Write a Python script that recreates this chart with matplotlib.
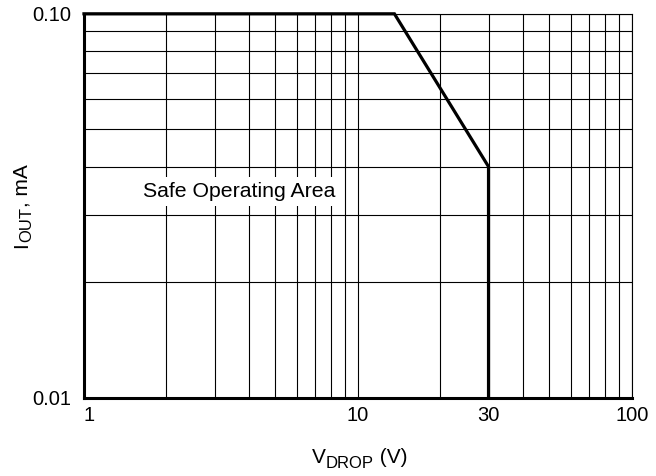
import matplotlib.pyplot as plt
from matplotlib.ticker import FixedLocator, NullFormatter
from matplotlib.transforms import offset_copy

plt.rcParams['font.family'] = ['Liberation Sans', 'DejaVu Sans']

# Safe operating area boundary
v_drop = [1, 13.6, 30, 30]
i_out = [0.1, 0.1, 0.04, 0.01]

x_ticks = [1, 10, 30, 100]
x_tick_labels = ['1', '10', '30', '100']
y_ticks = [0.01, 0.1]
y_tick_labels = ['0.01', '0.10']

fig = plt.figure(figsize=(6.56, 4.76), dpi=100)
ax = fig.add_axes([0.128, 0.164, 0.835, 0.807])

ax.set_xscale('log')
ax.set_yscale('log')
ax.set_xlim(1, 100)
ax.set_ylim(0.01, 0.1)

# grid on every minor decade step
x_minor = [m * d for d in (1, 10) for m in range(2, 10)] + [10, 100]
y_minor = [m * 0.01 for m in range(2, 10)]
ax.xaxis.set_minor_locator(FixedLocator(x_minor))
ax.yaxis.set_minor_locator(FixedLocator(y_minor))
ax.xaxis.set_minor_formatter(NullFormatter())
ax.yaxis.set_minor_formatter(NullFormatter())
ax.grid(True, which='both', color='black', linewidth=0.8)

ax.set_xticks(x_ticks)
ax.set_xticklabels(x_tick_labels)
ax.set_yticks(y_ticks)
ax.set_yticklabels(y_tick_labels)
ax.tick_params(which='both', length=0, labelsize=14.5)
ax.tick_params(axis='x', pad=6)
ax.tick_params(axis='y', pad=9)
ax.get_xticklabels()[0].set_horizontalalignment('left')

ax.plot(v_drop, i_out, color='black', linewidth=2.3, solid_joinstyle='miter',
        zorder=5, clip_on=False)

for side in ('left', 'bottom'):
    ax.spines[side].set_linewidth(2.2)
for side in ('top', 'right'):
    ax.spines[side].set_linewidth(0.8)

ax.text(0.283, 0.523, 'Safe Operating Area', transform=ax.transAxes,
        ha='center', va='baseline', fontsize=15.3, zorder=4,
        bbox=dict(facecolor='white', edgecolor='none', boxstyle='square,pad=0.25'))


# axis labels with subscripts, drawn piece by piece
def label_pieces(x, y, pieces, rotation=0):
    renderer = fig.canvas.get_renderer()
    shift = 0.0
    for s, size, drop in pieces:
        if rotation:
            tr = offset_copy(fig.transFigure, fig=fig, x=drop, y=shift, units='points')
        else:
            tr = offset_copy(fig.transFigure, fig=fig, x=shift, y=-drop, units='points')
        t = fig.text(x, y, s, fontsize=size, transform=tr, rotation=rotation,
                     ha='left', va='baseline', rotation_mode='anchor')
        ext = t.get_window_extent(renderer)
        shift += (ext.height if rotation else ext.width) * 72 / fig.dpi


label_pieces(312 / 656, 1 - 463 / 476,
             [('V', 15, 0), ('DROP', 12, 3.5), (' (V)', 15, 0)])
label_pieces(27 / 656, 1 - 248 / 476,
             [('I', 15, 0), ('OUT', 12, 3.0), (', mA', 15, 0)], rotation=90)

fig.savefig('out.png', dpi=100)
